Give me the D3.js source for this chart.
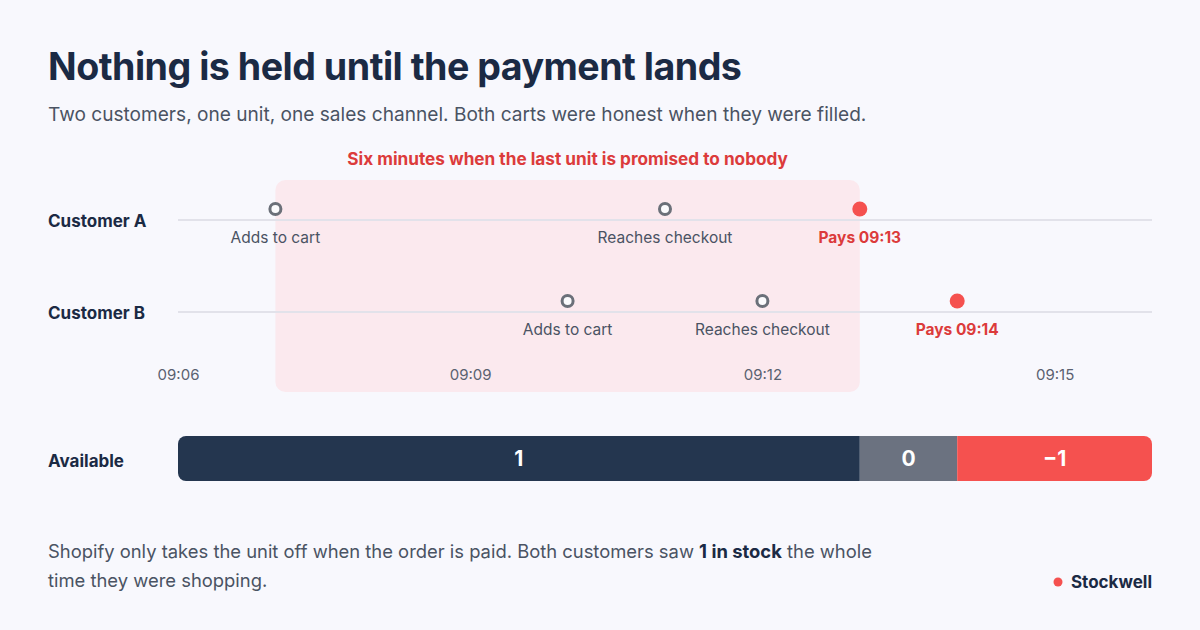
<!DOCTYPE html>
<html lang="en">
<head>
<meta charset="utf-8">
<script src="https://cdn.jsdelivr.net/npm/d3@7"></script>
<style>
  body { margin: 0; background: #f8f8fd; font-family: Inter, "Noto Sans", sans-serif; }
</style>
</head>
<body>
<svg id="chart" width="1200" height="630"></svg>
<script>
// minutes after 09:00
const rows = ['Customer A', 'Customer B'];
const events = [
  { row: 'Customer A', t: 7,  label: 'Adds to cart', paid: false },
  { row: 'Customer A', t: 11, label: 'Reaches checkout', paid: false },
  { row: 'Customer A', t: 13, label: 'Pays 09:13', paid: true },
  { row: 'Customer B', t: 10, label: 'Adds to cart', paid: false },
  { row: 'Customer B', t: 12, label: 'Reaches checkout', paid: false },
  { row: 'Customer B', t: 14, label: 'Pays 09:14', paid: true }
];
const tickMinutes = [6, 9, 12, 15];
const windowRange = [7, 13];
const stockSegments = [
  { from: 6, to: 13, value: '1' },
  { from: 13, to: 14, value: '0' },
  { from: 14, to: 16, value: '\u22121' }
];

const navy = '#1b2a44', gray = '#4a5363', red = '#f5514f';
const svg = d3.select('#chart');

svg.append('text').attr('x', 48).attr('y', 80)
  .attr('font-size', 37.6).attr('font-weight', 700).attr('fill', navy)
  .attr('letter-spacing', -0.5)
  .text('Nothing is held until the payment lands');
svg.append('text').attr('x', 48).attr('y', 121)
  .attr('font-size', 19.1).attr('fill', gray)
  .text('Two customers, one unit, one sales channel. Both carts were honest when they were filled.');

const x = d3.scaleLinear().domain([6, 16]).range([178, 1152]);
const y = d3.scalePoint().domain(rows).range([220, 312]);

// promise window
svg.append('rect')
  .attr('x', x(windowRange[0])).attr('y', 180)
  .attr('width', x(windowRange[1]) - x(windowRange[0])).attr('height', 212)
  .attr('rx', 10).attr('fill', '#fbe9ee');
svg.append('text')
  .attr('x', (x(windowRange[0]) + x(windowRange[1])) / 2).attr('y', 165)
  .attr('text-anchor', 'middle').attr('font-size', 17.2).attr('font-weight', 700)
  .attr('fill', '#dc3b3b').text('Six minutes when the last unit is promised to nobody');

// rows
rows.forEach(r => {
  svg.append('line').attr('x1', x(6)).attr('x2', x(16))
    .attr('y1', y(r)).attr('y2', y(r)).attr('stroke', '#e2e2ea').attr('stroke-width', 2);
  svg.append('text').attr('x', 48).attr('y', y(r) + 7)
    .attr('font-size', 17).attr('font-weight', 700).attr('fill', navy).text(r);
});

const ev = svg.selectAll('g.ev').data(events).join('g').attr('class', 'ev');
ev.append('circle')
  .attr('cx', d => x(d.t)).attr('cy', d => y(d.row) - 11)
  .attr('r', d => d.paid ? 7.5 : 5.5)
  .attr('fill', d => d.paid ? red : '#fbfbfd')
  .attr('stroke', d => d.paid ? 'none' : '#6b7079').attr('stroke-width', 3);
ev.append('text')
  .attr('x', d => x(d.t)).attr('y', d => y(d.row) + 23)
  .attr('text-anchor', 'middle').attr('font-size', 15.5)
  .attr('font-weight', d => d.paid ? 700 : 400)
  .attr('fill', d => d.paid ? '#dc3b3b' : gray)
  .text(d => d.label);

// time axis
const axis = d3.axisBottom(x).tickValues(tickMinutes).tickSize(0)
  .tickFormat(m => '09:' + String(m).padStart(2, '0'));
const ag = svg.append('g').attr('transform', 'translate(0,366)').call(axis);
ag.select('.domain').remove();
ag.selectAll('text').attr('font-size', 15).attr('fill', '#5a6170')
  .attr('font-family', 'Inter, "Noto Sans", sans-serif');

// available bar
svg.append('text').attr('x', 48).attr('y', 467)
  .attr('font-size', 17).attr('font-weight', 700).attr('fill', navy).text('Available');
const barColors = [ '#24364f', '#6b7280', red ];
svg.append('clipPath').attr('id', 'barclip').append('rect')
  .attr('x', x(6)).attr('y', 436).attr('width', x(16) - x(6)).attr('height', 45).attr('rx', 8);
const bg = svg.append('g').attr('clip-path', 'url(#barclip)');
bg.selectAll('rect').data(stockSegments).join('rect')
  .attr('x', d => x(d.from)).attr('y', 436)
  .attr('width', d => x(d.to) - x(d.from)).attr('height', 45)
  .attr('fill', (d, i) => barColors[i]);
svg.selectAll('text.seg').data(stockSegments).join('text').attr('class', 'seg')
  .attr('x', d => (x(d.from) + x(d.to)) / 2).attr('y', 466)
  .attr('text-anchor', 'middle').attr('font-size', 21).attr('font-weight', 700)
  .attr('fill', '#fff').text(d => d.value);

// footer
const f1 = svg.append('text').attr('x', 48).attr('y', 558).attr('font-size', 18.4).attr('fill', gray);
f1.append('tspan').text('Shopify only takes the unit off when the order is paid. Both customers saw ');
f1.append('tspan').attr('font-weight', 700).attr('fill', navy).text('1 in stock');
f1.append('tspan').text(' the whole');
svg.append('text').attr('x', 48).attr('y', 587).attr('font-size', 18.4).attr('fill', gray)
  .text('time they were shopping.');

svg.append('text').attr('x', 1152).attr('y', 588).attr('text-anchor', 'end')
  .attr('font-size', 17).attr('font-weight', 700).attr('fill', navy).text('Stockwell');
svg.append('circle').attr('cx', 1058).attr('cy', 582).attr('r', 4.5).attr('fill', red);
</script>
</body>
</html>
